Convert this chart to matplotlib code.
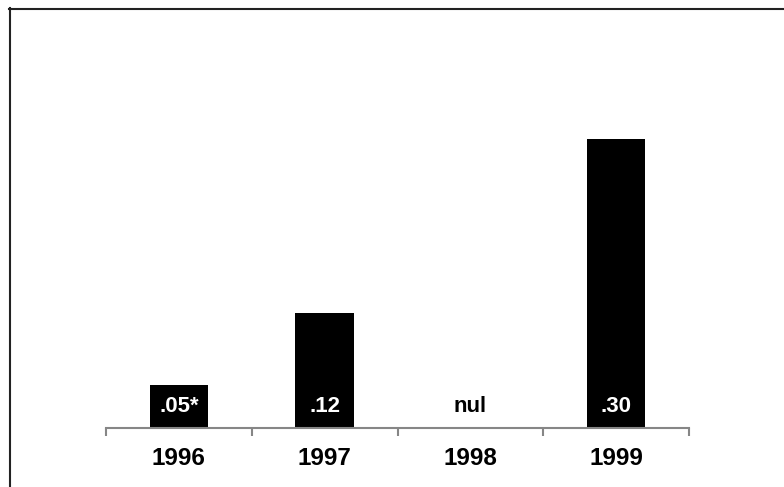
import matplotlib
matplotlib.use("Agg")
import matplotlib.pyplot as plt
from matplotlib.lines import Line2D

years = ["1996", "1997", "1998", "1999"]
values = [0.045, 0.12, 0.0, 0.30]
bar_labels = [".05*", ".12", "nul", ".30"]
label_colors = ["white", "white", "black", "white"]

plt.rcParams['font.family'] = ['Liberation Sans', 'DejaVu Sans']

W, H = 784, 487
fig = plt.figure(figsize=(W / 100, H / 100), dpi=100)
ax = fig.add_axes([106 / W, (H - 428) / H, (689 - 106) / W, (428 - 30) / H])

x = list(range(len(years)))
ax.bar(x, values, width=0.4, color="black", zorder=2)
ax.set_xlim(-0.5, len(years) - 0.5)
ax.set_ylim(0, 0.4137)

for xi, lab, c in zip(x, bar_labels, label_colors):
    ax.text(xi, 0.022, lab, ha="center", va="center", color=c,
            fontsize=16, fontweight="bold", zorder=3)

for s in ["top", "right", "left"]:
    ax.spines[s].set_visible(False)
ax.spines["bottom"].set_color("#868686")
ax.spines["bottom"].set_linewidth(1.5)
ax.set_yticks([])

ax.set_xticks([i - 0.5 for i in range(len(years) + 1)])
ax.set_xticklabels([])
ax.tick_params(axis="x", which="major", length=5.5, width=1.5, color="#868686")
ax.set_xticks(x, minor=True)
ax.set_xticklabels(years, minor=True, fontsize=17.5, fontweight="bold")
ax.tick_params(axis="x", which="minor", length=0, pad=14)

fig.add_artist(Line2D([9 / W, 1.0], [(H - 8.5) / H, (H - 8.5) / H], color="#222222", lw=1.5, transform=fig.transFigure))
fig.add_artist(Line2D([9.5 / W, 9.5 / W], [0.0, (H - 8) / H], color="#222222", lw=1.5, transform=fig.transFigure))

fig.savefig("out.png", dpi=100)
